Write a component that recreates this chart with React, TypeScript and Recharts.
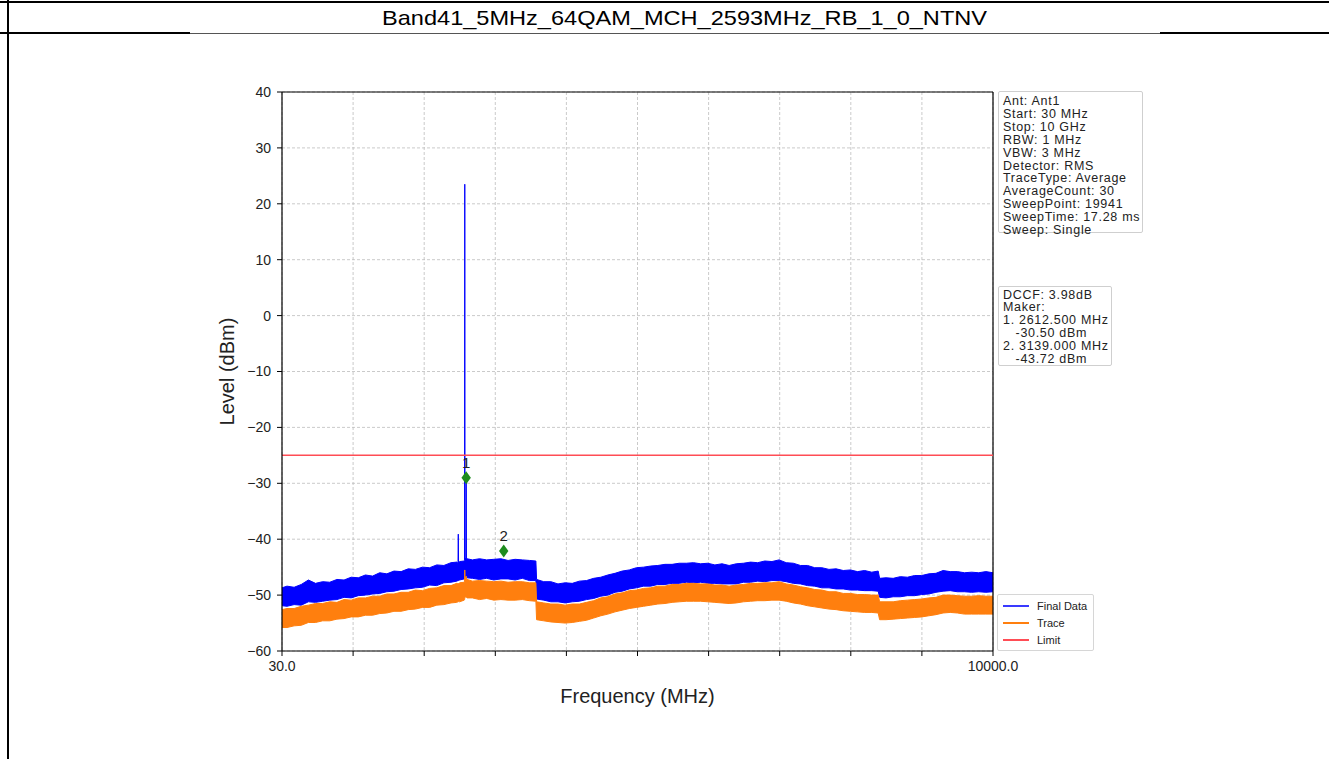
import {
  ComposedChart,
  Area,
  Scatter,
  XAxis,
  YAxis,
  CartesianGrid,
  ReferenceLine,
  Label,
} from 'recharts';

// sweep samples (MHz) and band envelopes (dBm)
const freqMHz = [
  30, 100, 200, 300, 400, 500, 600, 700, 800, 900,
  1000, 1100, 1200, 1300, 1400, 1500, 1600, 1700, 1800, 1900,
  2000, 2100, 2200, 2300, 2400, 2480, 2498, 2502, 2506, 2520,
  2585, 2590, 2593, 2596, 2600, 2609, 2612.5, 2616, 2625, 2700,
  2800, 2900, 3000, 3100, 3200, 3300, 3400, 3500, 3590, 3600,
  3700, 3800, 3900, 4000, 4100, 4200, 4300, 4400, 4500, 4600,
  4700, 4800, 4900, 5000, 5100, 5200, 5300, 5400, 5500, 5600,
  5700, 5800, 5900, 6000, 6100, 6200, 6300, 6400, 6500, 6600,
  6700, 6800, 6900, 7000, 7100, 7200, 7300, 7400, 7500, 7600,
  7700, 7800, 7900, 8000, 8100, 8200, 8300, 8390, 8410, 8500,
  8600, 8700, 8800, 8900, 9000, 9100, 9200, 9300, 9400, 9500,
  9600, 9700, 9800, 9900, 10000,
];

const finalHigh = [
  -48.7, -48.4, -48.6, -48.1, -47.3, -47.9, -47.6, -47.7, -47.2, -47.3,
  -46.8, -46.9, -46.4, -46.6, -46.0, -46.2, -45.7, -45.8, -45.3, -45.4,
  -45.0, -45.1, -44.6, -44.7, -44.2, -44.1, -44.3, -39.1, -44.2, -44.0,
  -43.9, -43.8, 23.5, -43.5, -43.4, -43.6, -29.2, -43.6, -43.5, -43.7,
  -43.5, -43.7, -43.6, -43.5, -43.8, -43.6, -43.7, -43.8, -43.9, -47.2,
  -47.6, -47.6, -48.0, -47.8, -47.9, -47.5, -47.4, -47.0, -46.8, -46.4,
  -46.1, -45.7, -45.5, -45.1, -45.0, -44.8, -44.7, -44.5, -44.5, -44.3,
  -44.3, -44.2, -44.4, -44.3, -44.6, -44.4, -44.7, -44.4, -44.3, -44.1,
  -44.2, -43.9, -44.0, -43.7, -44.2, -44.3, -44.7, -44.7, -45.1, -45.1,
  -45.4, -45.3, -45.6, -45.5, -45.8, -45.6, -45.9, -45.7, -47.0, -46.9,
  -47.0, -46.7, -46.8, -46.5, -46.5, -46.2, -46.1, -45.6, -45.8, -45.8,
  -46.0, -45.9, -46.0, -45.8, -46.0,
];

const finalLow = [
  -51.9, -52.0, -51.7, -51.8, -51.2, -51.3, -51.1, -50.9, -50.8, -50.4,
  -50.5, -50.1, -50.0, -49.8, -49.7, -49.4, -49.3, -49.0, -48.9, -48.7,
  -48.6, -48.2, -48.3, -47.8, -47.7, -47.5, -47.4, -47.3, -47.4, -47.3,
  -47.1, -47.0, -46.8, -46.8, -46.7, -46.8, -46.8, -46.9, -46.9, -47.0,
  -47.2, -47.0, -47.3, -47.1, -47.1, -47.3, -47.0, -47.4, -47.4, -50.7,
  -50.9, -51.2, -51.2, -51.4, -51.2, -51.1, -50.8, -50.6, -50.2, -50.0,
  -49.5, -49.3, -48.9, -48.7, -48.4, -48.4, -48.1, -48.1, -47.9, -47.9,
  -47.7, -47.8, -47.7, -47.9, -47.9, -48.0, -48.0, -48.0, -47.7, -47.7,
  -47.5, -47.6, -47.4, -47.4, -47.6, -47.9, -48.0, -48.3, -48.4, -48.7,
  -48.7, -48.9, -48.9, -49.1, -49.1, -49.2, -49.2, -49.3, -50.4, -50.5,
  -50.3, -50.3, -50.1, -50.1, -49.9, -49.8, -49.5, -49.3, -49.2, -49.4,
  -49.4, -49.5, -49.4, -49.5, -49.4,
];

const traceHigh = [
  -52.6, -52.4, -52.4, -52.0, -51.8, -51.5, -51.5, -51.2, -51.3, -50.8,
  -50.9, -50.5, -50.5, -50.2, -50.2, -49.8, -49.8, -49.5, -49.5, -49.1,
  -49.2, -48.8, -48.7, -48.3, -48.3, -47.9, -48.0, -47.9, -48.0, -47.8,
  -47.7, -47.5, -45.5, -47.0, -47.0, -47.1, -46.6, -47.2, -47.2, -47.5,
  -47.4, -47.5, -47.6, -47.5, -47.7, -47.6, -47.6, -47.8, -47.8, -51.2,
  -51.4, -51.6, -51.6, -51.8, -51.6, -51.6, -51.3, -51.0, -50.5, -50.3,
  -49.8, -49.6, -49.2, -49.1, -48.8, -48.7, -48.4, -48.4, -48.1, -48.1,
  -47.9, -47.9, -48.0, -48.0, -48.2, -48.2, -48.4, -48.2, -48.1, -47.9,
  -47.9, -47.8, -47.8, -47.6, -48.0, -48.2, -48.5, -48.7, -49.0, -49.1,
  -49.4, -49.4, -49.7, -49.7, -49.9, -49.9, -50.0, -50.0, -51.2, -51.2,
  -51.2, -51.0, -50.9, -50.8, -50.7, -50.5, -50.4, -50.0, -50.0, -50.1,
  -50.2, -50.2, -50.1, -50.2, -50.2,
];

const traceLow = [
  -55.8, -55.8, -55.5, -55.4, -54.9, -54.9, -54.6, -54.6, -54.3, -54.2,
  -53.9, -53.9, -53.6, -53.6, -53.3, -53.2, -52.9, -52.9, -52.6, -52.5,
  -52.2, -52.2, -51.8, -51.7, -51.4, -51.3, -51.2, -51.2, -51.1, -51.2,
  -50.9, -50.8, -50.6, -50.4, -50.3, -50.4, -50.4, -50.4, -50.5, -50.5,
  -50.8, -50.6, -50.9, -50.8, -50.9, -50.9, -50.8, -51.0, -51.1, -54.4,
  -54.6, -54.8, -54.9, -55.0, -54.9, -54.7, -54.5, -54.1, -53.7, -53.4,
  -53.0, -52.7, -52.4, -52.2, -52.0, -51.8, -51.6, -51.5, -51.3, -51.2,
  -51.1, -51.1, -51.1, -51.2, -51.3, -51.4, -51.5, -51.4, -51.2, -51.1,
  -51.0, -51.0, -50.9, -50.9, -51.1, -51.4, -51.6, -51.9, -52.1, -52.3,
  -52.5, -52.6, -52.8, -52.9, -53.0, -53.1, -53.1, -53.2, -54.4, -54.4,
  -54.3, -54.2, -54.1, -54.0, -53.9, -53.7, -53.5, -53.2, -53.1, -53.2,
  -53.4, -53.4, -53.4, -53.4, -53.4,
];

const limitLevel = -25;

const markerFreq = [2612.5, 3139];
const markerLevel = [-29.0, -42.1];
const markerLabel = ['1', '2'];

const xTicks = [30, 1027, 2024, 3021, 4018, 5015, 6012, 7009, 8006, 9003, 10000];
const yTicks = [-60, -50, -40, -30, -20, -10, 0, 10, 20, 30, 40];

const settingsLines = [
  'Ant: Ant1',
  'Start: 30 MHz',
  'Stop: 10 GHz',
  'RBW: 1 MHz',
  'VBW: 3 MHz',
  'Detector: RMS',
  'TraceType: Average',
  'AverageCount: 30',
  'SweepPoint: 19941',
  'SweepTime: 17.28 ms',
  'Sweep: Single',
];

const markerLines = [
  'DCCF: 3.98dB',
  'Maker:',
  '1. 2612.500 MHz',
  '   -30.50 dBm',
  '2. 3139.000 MHz',
  '   -43.72 dBm',
];

const FONT = '"Liberation Sans", Arial, Helvetica, sans-serif';
const BLUE = '#0000ff';
const ORANGE = '#ff7f0e';
const RED = '#ff4d55';
const GREEN = '#1e8c1e';

const rows = freqMHz.map((f, i) => ({
  f,
  fin: [finalLow[i], finalHigh[i]],
  tr: [traceLow[i], traceHigh[i]],
}));

const markers = markerFreq.map((f, i) => ({ f, level: markerLevel[i], label: markerLabel[i] }));

const legendItems = [
  { name: 'Final Data', color: '#3a3aff' },
  { name: 'Trace', color: ORANGE },
  { name: 'Limit', color: RED },
];

function formatY(v: number): string {
  return v < 0 ? `\u2212${Math.abs(v)}` : String(v);
}

function formatX(v: number): string {
  if (v === 30) return '30.0';
  if (v === 10000) return '10000.0';
  return '';
}

// eslint-disable-next-line @typescript-eslint/no-explicit-any
function MarkerShape(props: any) {
  const { cx, cy, payload } = props;
  if (cx == null || cy == null) return null;
  return (
    <g>
      <polygon
        points={`${cx},${cy - 6.5} ${cx + 4.7},${cy} ${cx},${cy + 6.5} ${cx - 4.7},${cy}`}
        fill={GREEN}
      />
      <text x={cx} y={cy - 9.5} textAnchor="middle" fontSize={15} fill="#222" fontFamily={FONT}>
        {payload.label}
      </text>
    </g>
  );
}

// eslint-disable-next-line @typescript-eslint/no-explicit-any
function YLabel(props: any) {
  const vb = props.viewBox || { x: 0, y: 0, width: 0, height: 0 };
  const x = vb.x + 27;
  const y = vb.y + vb.height / 2;
  return (
    <text
      x={x}
      y={y}
      transform={`rotate(-90, ${x}, ${y})`}
      textAnchor="middle"
      dominantBaseline="central"
      fontSize={20}
      fill="#222"
      fontFamily={FONT}
    >
      Level (dBm)
    </text>
  );
}

function InfoBox({ lines, left, top, width, height, padTop }: { lines: string[]; left: number; top: number; width: number; height: number; padTop: number }) {
  return (
    <div
      style={{
        position: 'absolute',
        left,
        top,
        width,
        height,
        boxSizing: 'border-box',
        border: '1px solid #cfcfcf',
        borderRadius: 2,
        background: '#fff',
        padding: `${padTop}px 0 0 4px`,
        fontFamily: FONT,
        fontSize: 12.5,
        letterSpacing: 0.7,
        lineHeight: '12.9px',
        color: '#222',
        whiteSpace: 'pre',
      }}
    >
      {lines.map((l, i) => (
        <div key={i}>{l}</div>
      ))}
    </div>
  );
}

export default function App() {
  return (
    <div
      style={{
        position: 'absolute',
        left: 0,
        top: 0,
        width: 1329,
        height: 759,
        background: '#fff',
        overflow: 'hidden',
        fontFamily: FONT,
      }}
    >
      {/* report table frame */}
      <div style={{ position: 'absolute', left: 0, top: 1, width: 1329, height: 2, background: '#000' }} />
      <div style={{ position: 'absolute', left: 7, top: 0, width: 2, height: 759, background: '#000' }} />
      <div style={{ position: 'absolute', left: 0, top: 32, width: 190, height: 2, background: '#000' }} />
      <div style={{ position: 'absolute', left: 190, top: 33, width: 970, height: 1, background: '#555' }} />
      <div style={{ position: 'absolute', left: 1160, top: 32, width: 169, height: 2, background: '#000' }} />
      <svg style={{ position: 'absolute', left: 0, top: 0 }} width={1329} height={32}>
        <text
          x={684.5}
          y={25}
          textAnchor="middle"
          fontSize={21}
          textLength={605}
          lengthAdjust="spacingAndGlyphs"
          fill="#000"
          fontFamily={FONT}
        >
          Band41_5MHz_64QAM_MCH_2593MHz_RB_1_0_NTNV
        </text>
      </svg>

      <div style={{ position: 'absolute', left: 0, top: 0 }}>
        <ComposedChart
          width={1329}
          height={759}
          data={rows}
          margin={{ top: 92, right: 336, bottom: 0, left: 200 }}
        >
          <CartesianGrid stroke="#bdbdbd" strokeDasharray="3 2" strokeWidth={0.8} />
          <XAxis
            type="number"
            dataKey="f"
            domain={[30, 10000]}
            ticks={xTicks}
            interval={0}
            tickFormatter={formatX}
            height={108}
            tickSize={5}
            tickMargin={5}
            axisLine={{ stroke: '#000', strokeWidth: 1.2 }}
            tickLine={{ stroke: '#000' }}
            tick={{ fontSize: 14, fill: '#222', fontFamily: FONT }}
          >
            <Label value="Frequency (MHz)" position="insideBottom" offset={56} fontSize={20} fill="#222" fontFamily={FONT} />
          </XAxis>
          <YAxis
            type="number"
            domain={[-60, 40]}
            ticks={yTicks}
            interval={0}
            tickFormatter={formatY}
            width={82}
            tickSize={5}
            tickMargin={6}
            axisLine={{ stroke: '#000', strokeWidth: 1.2 }}
            tickLine={{ stroke: '#000' }}
            tick={{ fontSize: 14, fill: '#222', fontFamily: FONT }}
            label={<Label content={<YLabel />} />}
          />
          <ReferenceLine y={40} stroke="#000" strokeWidth={1.2} />
          <ReferenceLine x={10000} stroke="#000" strokeWidth={1.2} />
          <Area
            type="linear"
            dataKey="fin"
            name="Final Data"
            stroke={BLUE}
            strokeWidth={1}
            fill={BLUE}
            fillOpacity={1}
            dot={false}
            activeDot={false}
            isAnimationActive={false}
          />
          <Area
            type="linear"
            dataKey="tr"
            name="Trace"
            stroke={ORANGE}
            strokeWidth={1}
            fill={ORANGE}
            fillOpacity={1}
            dot={false}
            activeDot={false}
            isAnimationActive={false}
          />
          <ReferenceLine y={limitLevel} stroke={RED} strokeWidth={1.5} />
          <Scatter data={markers} dataKey="level" shape={<MarkerShape />} isAnimationActive={false} />
        </ComposedChart>
      </div>

      <InfoBox lines={settingsLines} left={998} top={91} width={145} height={142} padTop={3} />
      <InfoBox lines={markerLines} left={998} top={286} width={114} height={80} padTop={1.5} />

      {/* legend */}
      <div
        style={{
          position: 'absolute',
          left: 997,
          top: 594,
          width: 97,
          height: 57,
          boxSizing: 'border-box',
          border: '1px solid #d6d6d6',
          borderRadius: 2,
          background: '#fff',
        }}
      >
        {legendItems.map((it, i) => (
          <div key={it.name} style={{ position: 'absolute', left: 0, top: 4 + i * 17, height: 14, width: 95 }}>
            <div style={{ position: 'absolute', left: 5, top: 6, width: 26, height: 2, background: it.color }} />
            <div style={{ position: 'absolute', left: 39, top: 0, fontSize: 11, lineHeight: '14px', color: '#222' }}>
              {it.name}
            </div>
          </div>
        ))}
      </div>
    </div>
  );
}
